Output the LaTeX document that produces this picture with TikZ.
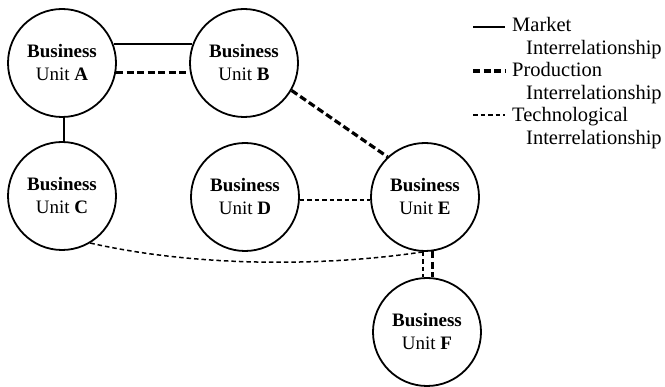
\documentclass[tikz,border=0pt]{standalone}
\usepackage{fontspec}
\setmainfont{Liberation Serif}
\tikzset{
  unit/.style={circle,draw,line width=1.8pt,minimum size=108pt,inner sep=0pt,align=center,
    font=\fontsize{19}{23}\selectfont},
  market/.style={line width=1.8pt},
  production/.style={line width=3.2pt,dash pattern=on 7pt off 3.5pt},
  techno/.style={line width=1.5pt,dash pattern=on 4.5pt off 3pt},
  legtext/.style={anchor=base west,inner sep=0pt,font=\fontsize{20.5}{24}\selectfont}
}
\begin{document}
\begin{tikzpicture}[x=1pt,y=-1pt]
\useasboundingbox (0,0) rectangle (665,387);
\node[unit] (A) at (62,63) {\textbf{Business}\\Unit \textbf{A}};
\node[unit] (B) at (244,63) {\textbf{Business}\\Unit \textbf{B}};
\node[unit] (C) at (62,196) {\textbf{Business}\\Unit \textbf{C}};
\node[unit] (D) at (245,197) {\textbf{Business}\\Unit \textbf{D}};
\node[unit] (E) at (425,197) {\textbf{Business}\\Unit \textbf{E}};
\node[unit] (F) at (427,332) {\textbf{Business}\\Unit \textbf{F}};
% connectors
\draw[market] (A.20) -- (B.160);
\draw[production] (A.-10) -- (B.190);
\draw[market] (A.-88) -- (C.88);
\draw[production] (B.-30) -- (E.133);
\draw[techno] (D.-3) -- (E.183);
\draw[techno] (C.-59) .. controls (200,268) and (330,266) .. (E.-92);
\draw[techno] (E.-92) -- (E.-92 |- F.north);
\draw[production] (E.-82) -- (E.-82 |- F.north);
% legend
\coordinate (m1) at (473,27); \coordinate (m2) at (505,27);
\coordinate (p1) at (473,71); \coordinate (p2) at (505,71);
\coordinate (t1) at (473,115); \coordinate (t2) at (505,115);
\draw[market] (m1) -- (m2);
\draw[production] (p1) -- (p2);
\draw[techno] (t1) -- (t2);
\node[legtext] (lm) at (512,32) {Market};
\node[legtext] (lm2) at (526,55) {Interrelationship};
\node[legtext] (lp) at (512,77) {Production};
\node[legtext] (lp2) at (526,100) {Interrelationship};
\node[legtext] (lt) at (512,122) {Technological};
\node[legtext] (lt2) at (526,145) {Interrelationship};
\end{tikzpicture}
\end{document}
